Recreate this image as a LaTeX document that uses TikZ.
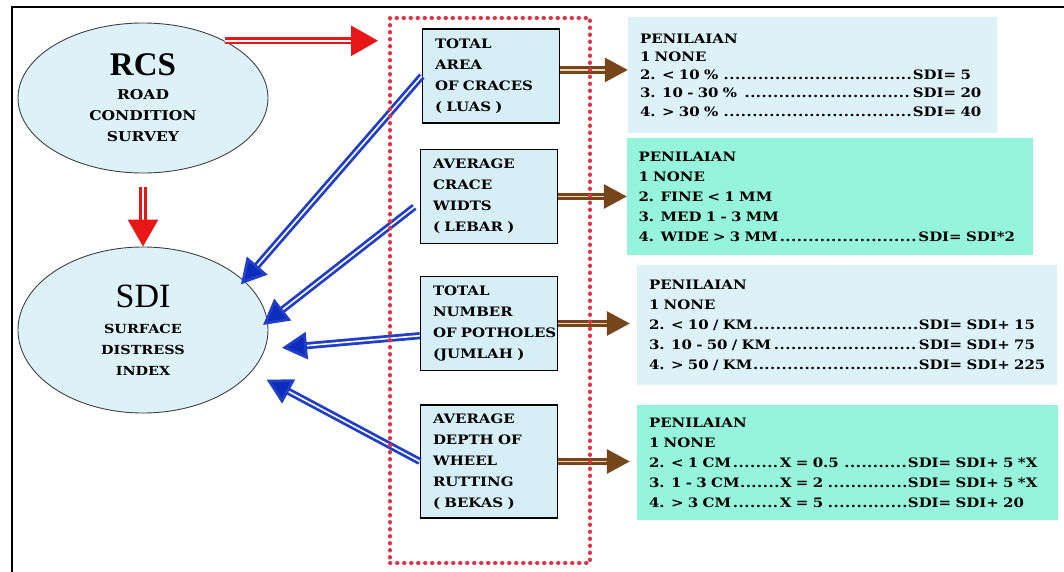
\documentclass[tikz,border=0pt]{standalone}
\usepackage{fontspec}
\setmainfont{Liberation Serif}
\newfontfamily\slab[FakeStretch=1.15]{DejaVu Serif}
\usetikzlibrary{arrows.meta, shapes.geometric, positioning}

\definecolor{paleblue}{RGB}{221,241,248}
\definecolor{boxblue}{RGB}{214,238,246}
\definecolor{aqua}{RGB}{150,244,220}
\definecolor{redarr}{RGB}{232,22,22}
\definecolor{bluearr}{RGB}{32,62,200}
\definecolor{bluehead}{RGB}{12,44,190}
\definecolor{brownarr}{RGB}{118,70,26}
\definecolor{dotred}{RGB}{222,52,72}

% dotted leader of fixed width
\newcommand\lead[2]{\makebox[#1][l]{#2\dotfill}}

\tikzset{
  oval/.style={ellipse, draw=black!75, line width=0.9pt, fill=paleblue, inner sep=0pt, align=center,
    minimum width=250pt},
  itembox/.style={draw, line width=1.3pt, fill=boxblue, minimum width=137pt, minimum height=94pt,
    text width=112pt, align=left, inner sep=0pt, font=\slab\bfseries\fontsize{13}{21}\selectfont},
  panel/.style={fill=#1, inner sep=0pt, align=left, font=\slab\bfseries\fontsize{13}{20}\selectfont},
  grpbox/.style={draw=dotred, line width=4pt, dash pattern=on 0.5pt off 6.5pt, line cap=round,
    minimum width=200pt, minimum height=545pt},
  redarrow/.style={draw=redarr, double=white, double distance=1.8pt, line width=2.8pt,
    -{Triangle[length=27pt, width=30pt, fill=redarr]}},
  bluearrow/.style={draw=bluearr, double=white, double distance=1.6pt, line width=2.8pt,
    -{Triangle[length=25pt, width=27pt, fill=bluehead]}},
  brownarrow/.style={draw=brownarr, double={rgb,255:red,236;green,214;blue,190}, double distance=1.8pt,
    line width=3pt, -{Triangle[length=23pt, width=24pt, fill=brownarr]}}
}

\begin{document}
\begin{tikzpicture}[x=1pt, y=-1pt]
\useasboundingbox (0,0) rectangle (1064,572);
\draw[line width=1.8pt] (12,572) -- (12,7) -- (1064,7);

% ellipses
\node[oval, minimum height=150pt, font=\slab\bfseries\fontsize{13.5}{21}\selectfont] (rcs) at (143,98)
  {{\rmfamily\bfseries\fontsize{33}{33}\selectfont RCS}\\[3pt] ROAD\\ CONDITION\\ SURVEY};
\node[oval, minimum height=166pt, font=\slab\bfseries\fontsize{12.5}{21}\selectfont] (sdi) at (143,330)
  {{\rmfamily\mdseries\fontsize{34}{34}\selectfont SDI}\\[5pt] SURFACE\\ DISTRESS\\ INDEX};

% distress items
\node[itembox] (b1) at (491,76) {TOTAL\\ AREA\\ OF CRACES\\ ( LUAS )};
\node[itembox] (b2) at (489,196.5) {AVERAGE\\ CRACE\\ WIDTS\\ ( LEBAR )};
\node[itembox] (b3) at (489,323.5) {TOTAL\\ NUMBER\\ \mbox{OF POTHOLES}\\ (JUMLAH )};
\node[itembox, minimum height=113pt] (b4) at (489,461.5) {AVERAGE\\ DEPTH OF\\ WHEEL\\ RUTTING\\ ( BEKAS )};

% scoring panels
\node[panel=paleblue, minimum width=369pt, minimum height=116pt, text width=345pt,
  font=\slab\bfseries\fontsize{13}{18.3}\selectfont] (p1) at (812.5,75)
  {PENILAIAN\\ 1 NONE\\
   \lead{273pt}{2. < 10 \% }SDI= 5\\
   \lead{273pt}{3. 10 - 30 \% }SDI= 20\\
   \lead{273pt}{4. > 30 \% }SDI= 40};
\node[panel=aqua, minimum width=406pt, minimum height=117pt, text width=383pt] (p2) at (830,196.5)
  {PENILAIAN\\ 1 NONE\\ 2. FINE < 1 MM\\ 3. MED 1 - 3 MM\\
   \lead{280pt}{4. WIDE > 3 MM}SDI= SDI*2};
\node[panel=paleblue, minimum width=420pt, minimum height=120pt, text width=396pt] (p3) at (847,325)
  {PENILAIAN\\ 1 NONE\\
   \mbox{\lead{270pt}{2. < 10 / KM}SDI= SDI+ 15}\\
   \mbox{\lead{270pt}{3. 10 - 50 / KM}SDI= SDI+ 75}\\
   \mbox{\lead{270pt}{4. > 50 / KM}SDI= SDI+ 225}};
\node[panel=aqua, minimum width=421pt, minimum height=115pt, text width=397pt] (p4) at (847.5,462.5)
  {PENILAIAN\\ 1 NONE\\
   \mbox{\lead{131pt}{2. < 1 CM}\lead{128pt}{X = 0.5 }SDI= SDI+ 5 *X}\\
   \mbox{\lead{131pt}{3. 1 - 3 CM}\lead{128pt}{X = 2 }SDI= SDI+ 5 *X}\\
   \mbox{\lead{131pt}{4. > 3 CM}\lead{128pt}{X = 5 }SDI= SDI+ 20}};

% items feed the index
\draw[bluearrow, shorten >=-5pt] (b1.west) -- (sdi.26);
\draw[bluearrow, shorten <=7pt, shorten >=-6pt] (b2.185) -- (sdi.4);
\draw[bluearrow, shorten >=17pt] (b3.190) -- (sdi.-9);
\draw[bluearrow, shorten >=17pt] (b4.west) -- (sdi.-21);

% items to scoring
\draw[brownarrow] (b1.5) -- (b1.5 -| p1.west);
\draw[brownarrow] (b2.east) -- (b2.east -| p2.west);
\draw[brownarrow, shorten >=7pt] (b3.east) -- (b3.east -| p3.west);
\draw[brownarrow, shorten >=7pt] (b4.east) -- (b4.east -| p4.west);

\node[grpbox] (grp) at (490,290.5) {};

\draw[redarrow, shorten >=10pt] (rcs.35) -- (rcs.35 -| grp.west);
\draw[redarrow, shorten <=14pt] (rcs) -- (sdi);
\end{tikzpicture}
\end{document}
